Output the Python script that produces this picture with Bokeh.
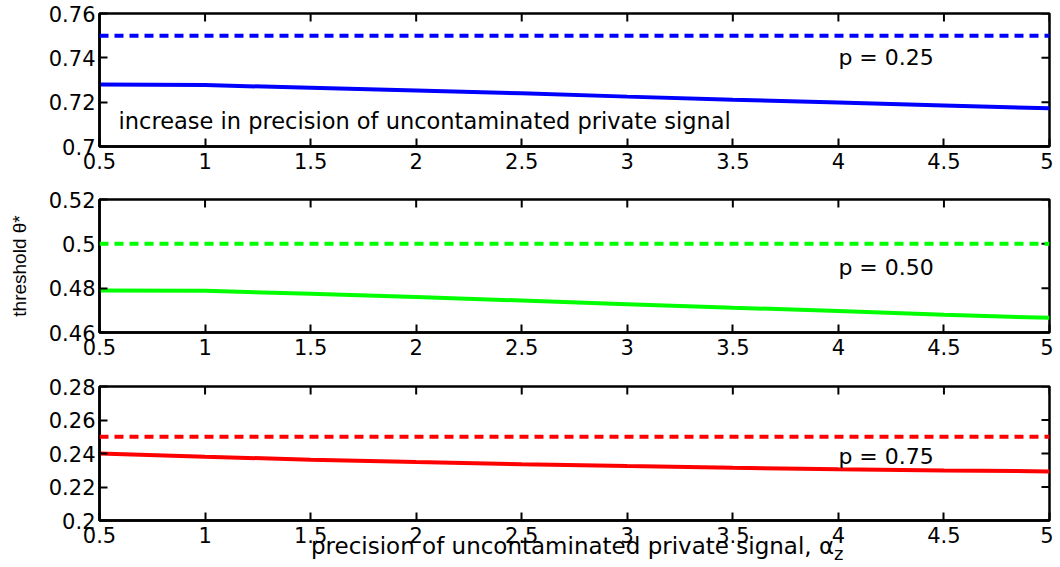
import math
from bokeh.plotting import figure
from bokeh.layouts import column
from bokeh.models import Range1d, FixedTicker, Span, Label, Div
from bokeh.embed import file_html
from bokeh.resources import INLINE

# ---- data -------------------------------------------------------------
alpha_z = [0.5, 1.0, 1.5, 2.0, 2.5, 3.0, 3.5, 4.0, 4.5, 5.0]
theta_p025 = [0.7280, 0.7277, 0.7265, 0.7253, 0.7240, 0.7225, 0.7211, 0.7198, 0.7185, 0.7172]
theta_p050 = [0.4790, 0.4788, 0.4775, 0.4760, 0.4744, 0.4728, 0.4712, 0.4697, 0.4680, 0.4666]
theta_p075 = [0.2400, 0.2381, 0.2363, 0.2349, 0.2336, 0.2325, 0.2315, 0.2306, 0.2299, 0.2293]
benchmark = [0.75, 0.50, 0.25]
p_labels = ["p = 0.25", "p = 0.50", "p = 0.75"]
p_label_y = [0.7402, 0.4893, 0.2382]
colors = ["#0000ff", "#00ff00", "#ff0000"]

x_ticks = [0.5, 1.0, 1.5, 2.0, 2.5, 3.0, 3.5, 4.0, 4.5, 5.0]
x_tick_labels = ["0.5", "1", "1.5", "2", "2.5", "3", "3.5", "4", "4.5", "5"]
y_ticks = [
    [0.70, 0.72, 0.74, 0.76],
    [0.46, 0.48, 0.50, 0.52],
    [0.20, 0.22, 0.24, 0.26, 0.28],
]
y_tick_labels = [
    ["0.7", "0.72", "0.74", "0.76"],
    ["0.46", "0.48", "0.5", "0.52"],
    ["0.2", "0.22", "0.24", "0.26", "0.28"],
]
y_ranges = [(0.70, 0.76), (0.46, 0.52), (0.20, 0.28)]
series = [theta_p025, theta_p050, theta_p075]

annotation_text = "increase in precision of uncontaminated private signal"
x_label_text = "precision of uncontaminated private signal, \u03b1"
x_label_sub = "z"
y_label_text = "threshold \u03b8*"

FONT = "DejaVu Sans"
TICK_FS = "21px"

# (top border, bottom border, frame height)
borders = [(13, 30, 133), (23, 30, 133), (24, 26, 134)]


def style_axis(ax, ticks, labels, standoff):
    ax.ticker = FixedTicker(ticks=ticks)
    ax.major_label_overrides = {t: l for t, l in zip(ticks, labels)}
    ax.axis_line_color = "black"
    ax.axis_line_width = 2.5
    ax.major_tick_line_color = "black"
    ax.major_tick_line_width = 2
    ax.major_tick_in = 8
    ax.major_tick_out = 0
    ax.minor_tick_line_color = None
    ax.major_label_text_font = FONT
    ax.major_label_text_color = "black"
    ax.major_label_text_font_size = TICK_FS
    ax.major_label_standoff = standoff


figs = []
for i in range(3):
    top, bottom, fh = borders[i]
    y0, y1 = y_ranges[i]
    p = figure(
        frame_width=950, frame_height=fh,
        x_range=Range1d(0.5, 5.0), y_range=Range1d(y0, y1),
        output_backend="svg", toolbar_location=None,
        min_border_left=99, min_border_right=4,
        min_border_top=top, min_border_bottom=bottom,
        background_fill_color="white", border_fill_color="white",
    )
    p.outline_line_color = "black"
    p.outline_line_width = 2.5
    p.outline_line_alpha = 1.0
    p.xgrid.visible = False
    p.ygrid.visible = False

    style_axis(p.xaxis[0], x_ticks, x_tick_labels, 6)
    style_axis(p.yaxis[0], y_ticks[i], y_tick_labels[i], 4)

    # inward ticks on the top and right edges of the box
    p.scatter(x=x_ticks, y=[y1] * len(x_ticks), marker="dash", size=16,
              angle=math.pi / 2, line_color="black", line_width=2)
    p.scatter(x=[5.0] * len(y_ticks[i]), y=y_ticks[i], marker="dash", size=16,
              angle=0, line_color="black", line_width=2)

    p.add_layout(Span(location=benchmark[i], dimension="width",
                      line_color=colors[i], line_width=4, line_dash="9 6"))
    p.line(alpha_z, series[i], line_color=colors[i], line_width=4)

    p.add_layout(Label(x=4.0, y=p_label_y[i], text=p_labels[i],
                       text_baseline="middle", text_align="left",
                       text_font=FONT, text_font_size="22px", text_color="black"))
    figs.append(p)

# annotation in first panel
figs[0].add_layout(Label(x=0.59, y=0.7113, text=annotation_text,
                         text_baseline="middle", text_align="left",
                         text_font=FONT, text_font_size="22.5px", text_color="black"))

# y-axis label on middle panel
ax = figs[1].yaxis[0]
ax.axis_label = y_label_text
ax.axis_label_text_font = "Liberation Sans"
ax.axis_label_text_font_size = "19px"
ax.axis_label_text_font_style = "normal"
ax.axis_label_text_color = "black"
ax.axis_label_standoff = 16

# x-axis label (with subscript) under the bottom panel
xlabel = Div(
    text=x_label_text + '<sub style="font-size:18px">' + x_label_sub + "</sub>",
    width=720, height=24, margin=(-9, 0, 0, 311),
    styles={"font-family": "DejaVu Sans", "font-size": "23px",
            "line-height": "19px", "color": "black", "white-space": "nowrap"},
)

layout = column(*figs, xlabel, spacing=0)
open("out.html", "w").write(file_html(layout, INLINE))
